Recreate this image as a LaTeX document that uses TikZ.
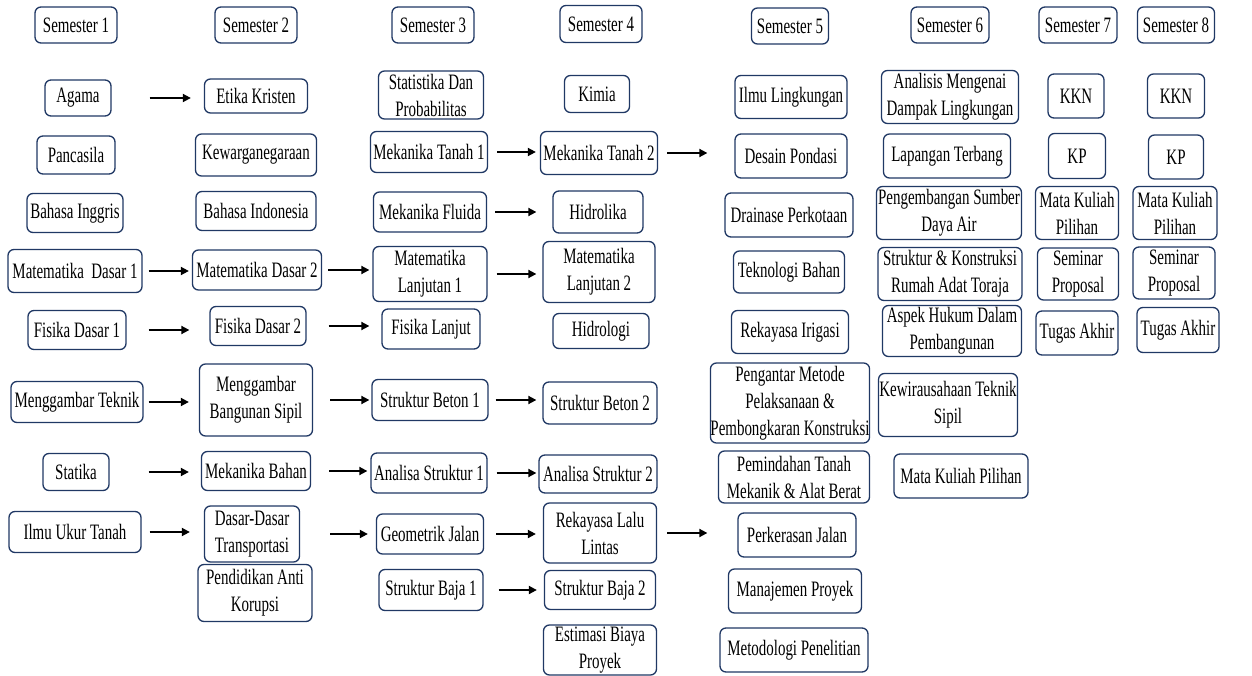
\documentclass[tikz,border=0pt]{standalone}
\usepackage{fontspec}
\setmainfont[FakeStretch=0.68]{Liberation Serif}
\usetikzlibrary{arrows.meta}
\definecolor{navy}{RGB}{32,56,100}
\tikzset{
  bx/.style={draw=navy, line width=1.3pt, rounded corners=6pt, fill=white, inner sep=0pt, align=center,
    font=\fontsize{22}{27}\selectfont},
  conn/.style={line width=1.8pt, -{Triangle[length=8pt,width=8pt]}}
}
\newcommand\mkbox[6]{\node[bx, minimum width=#4pt, minimum height=#5pt] (#1) at (#2,#3) {#6};}
\newcommand\linkto[4]{\draw[conn, shorten <=#3pt, shorten >=#4pt] (#1.east) -- (#1.east -| #2.west);}
\begin{document}
\begin{tikzpicture}[x=1pt,y=-1pt]
\useasboundingbox (0,0) rectangle (1252,676);
% column 1
\mkbox{s1}{76}{25}{82}{36}{Semester 1}
\mkbox{agama}{78}{98}{66}{36}{Agama}
\mkbox{pancasila}{76}{155}{78}{38}{Pancasila}
\mkbox{binggris}{75}{213}{96}{39}{Bahasa Inggris}
\mkbox{md1}{75}{271}{134}{43}{Matematika\ \ Dasar 1}
\mkbox{fd1}{77}{330}{98}{39}{Fisika Dasar 1}
\mkbox{mtek}{77}{402}{132}{41}{Menggambar Teknik}
\mkbox{statika}{76}{472}{66}{37}{Statika}
\mkbox{iut}{75}{532}{132}{41}{Ilmu Ukur Tanah}
% column 2
\mkbox{s2}{256}{25}{82}{36}{Semester 2}
\mkbox{etika}{256}{96}{103}{34}{Etika Kristen}
\mkbox{kwn}{256}{155}{121}{42}{Kewarganegaraan}
\mkbox{bind}{256}{211}{120}{39}{Bahasa Indonesia}
\mkbox{md2}{257}{270}{129}{40}{Matematika Dasar 2}
\mkbox{fd2}{258}{326}{96}{39}{Fisika Dasar 2}
\mkbox{mbs}{256}{400}{113}{72}{Menggambar\\Bangunan Sipil}
\mkbox{mb}{256}{471}{109}{39}{Mekanika Bahan}
\mkbox{ddt}{252}{534}{95}{56}{Dasar-Dasar\\Transportasi}
\mkbox{pak}{255}{593}{114}{57}{Pendidikan Anti\\Korupsi}
% column 3
\mkbox{s3}{433}{25}{82}{36}{Semester 3}
\mkbox{stat}{431}{95}{105}{48}{Statistika Dan\\Probabilitas}
\mkbox{mt1}{429}{152}{117}{41}{Mekanika Tanah 1}
\mkbox{mf}{430}{212}{113}{40}{Mekanika Fluida}
\mkbox{ml1}{430}{274}{114}{55}{Matematika\\Lanjutan 1}
\mkbox{fl}{431}{329}{98}{40}{Fisika Lanjut}
\mkbox{sb1}{430}{400}{116}{41}{Struktur Beton 1}
\mkbox{as1}{429}{473}{116}{40}{Analisa Struktur 1}
\mkbox{gj}{430}{534}{107}{40}{Geometrik Jalan}
\mkbox{sbj1}{431}{590}{104}{41}{Struktur Baja 1}
% column 4
\mkbox{s4}{601}{24}{82}{37}{Semester 4}
\mkbox{kimia}{597}{94}{65}{37}{Kimia}
\mkbox{mt2}{599}{153}{117}{43}{Mekanika Tanah 2}
\mkbox{hid}{598}{212}{90}{42}{Hidrolika}
\mkbox{ml2}{599}{272}{112}{61}{Matematika\\Lanjutan 2}
\mkbox{hidrologi}{601}{331}{96}{35}{Hidrologi}
\mkbox{sb2}{600}{403}{114}{42}{Struktur Beton 2}
\mkbox{as2}{598}{474}{118}{38}{Analisa Struktur 2}
\mkbox{rll}{600}{533}{113}{60}{Rekayasa Lalu\\Lintas}
\mkbox{sbj2}{600}{590}{111}{39}{Struktur Baja 2}
\mkbox{ebp}{600}{650}{113}{50}{Estimasi Biaya\\Proyek}
% column 5
\mkbox{s5}{790}{26}{77}{36}{Semester 5}
\mkbox{il}{791}{97}{112}{43}{Ilmu Lingkungan}
\mkbox{dp}{791}{156}{112}{44}{Desain Pondasi}
\mkbox{drp}{789}{215}{128}{44}{Drainase Perkotaan}
\mkbox{tb}{789}{272}{111}{42}{Teknologi Bahan}
\mkbox{ri}{790}{332}{117}{43}{Rekayasa Irigasi}
\mkbox{pmp}{790}{403}{158}{80}{Pengantar Metode\\Pelaksanaan \&\\Pembongkaran Konstruksi}
\mkbox{ptm}{794}{477}{151}{52}{Pemindahan Tanah\\Mekanik \& Alat Berat}
\mkbox{pj}{797}{535}{118}{44}{Perkerasan Jalan}
\mkbox{mp}{795}{591}{133}{44}{Manajemen Proyek}
\mkbox{mpn}{794}{650}{148}{44}{Metodologi Penelitian}
% column 6
\mkbox{s6}{950}{25}{78}{36}{Semester 6}
\mkbox{amdal}{950}{97}{137}{53}{Analisis Mengenai\\Dampak Lingkungan}
\mkbox{lt}{947}{156}{127}{44}{Lapangan Terbang}
\mkbox{psda}{949}{213}{145}{53}{Pengembangan Sumber\\Daya Air}
\mkbox{skrat}{950}{274}{144}{53}{Struktur \& Konstruksi\\Rumah Adat Toraja}
\mkbox{ahdp}{952}{331}{139}{51}{Aspek Hukum Dalam\\Pembangunan}
\mkbox{kts}{948}{405}{139}{63}{Kewirausahaan Teknik\\Sipil}
\mkbox{mkp6}{961}{476}{134}{44}{Mata Kuliah Pilihan}
% column 7
\mkbox{s7}{1078}{25}{78}{36}{Semester 7}
\mkbox{kkn7}{1076}{96}{56}{44}{KKN}
\mkbox{kp7}{1077}{156}{57}{45}{KP}
\mkbox{mk7}{1077}{213}{83}{53}{Mata Kuliah\\Pilihan}
\mkbox{sp7}{1078}{274}{81}{52}{Seminar\\Proposal}
\mkbox{ta7}{1077}{333}{82}{44}{Tugas Akhir}
% column 8
\mkbox{s8}{1176}{25}{77}{36}{Semester 8}
\mkbox{kkn8}{1176}{96}{57}{44}{KKN}
\mkbox{kp8}{1176}{157}{55}{44}{KP}
\mkbox{mk8}{1175}{213}{84}{53}{Mata Kuliah\\Pilihan}
\mkbox{sp8}{1174}{273}{82}{52}{Seminar\\Proposal}
\mkbox{ta8}{1178}{330}{82}{45}{Tugas Akhir}
% arrows
\linkto{agama}{etika}{38}{13}
\linkto{md1}{md2}{6}{3}
\linkto{fd1}{fd2}{22}{20}
\linkto{mtek}{mbs}{5}{10}
\linkto{statika}{mb}{39}{12}
\linkto{iut}{ddt}{8}{14}
\linkto{md2}{ml1}{6}{3}
\linkto{fd2}{fl}{22}{12}
\linkto{mbs}{sb1}{17}{2}
\linkto{mb}{as1}{18}{3}
\linkto{ddt}{gj}{30}{8}
\linkto{mt1}{mt2}{9}{4}
\linkto{mf}{hid}{8}{16}
\linkto{ml1}{ml2}{9}{6}
\linkto{sb1}{sb2}{7}{6}
\linkto{as1}{as2}{9}{2}
\linkto{gj}{rll}{12}{7}
\linkto{sbj1}{sbj2}{15}{7}
\linkto{mt2}{dp}{9}{27}
\linkto{rll}{pj}{10}{30}
\end{tikzpicture}
\end{document}
